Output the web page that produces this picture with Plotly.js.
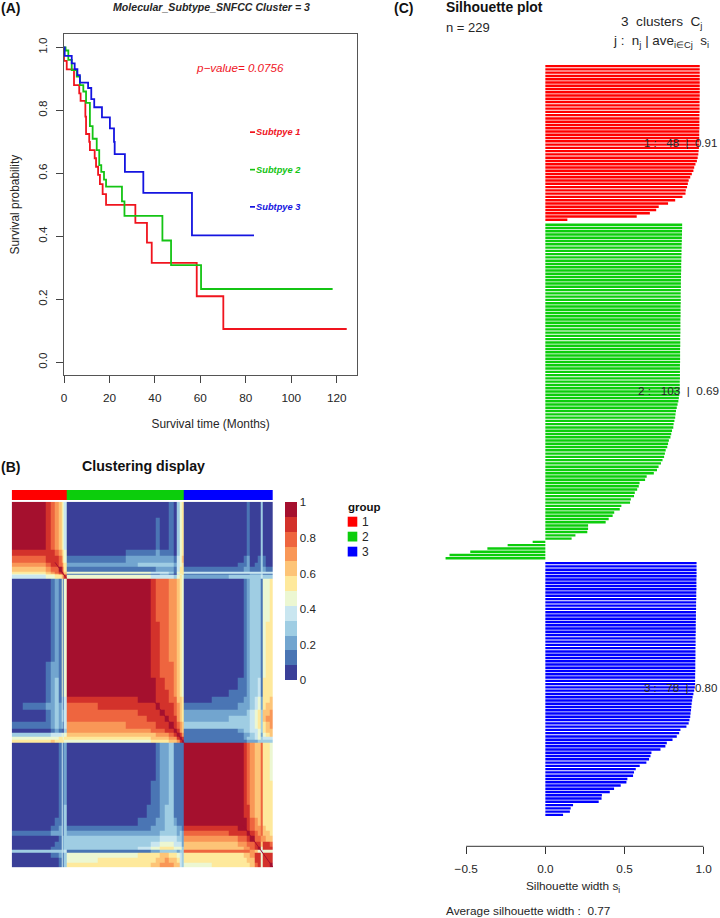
<!DOCTYPE html>
<html>
<head>
<meta charset="utf-8">
<script src="https://cdn.plot.ly/plotly-3.0.1.min.js"></script>
<style>html,body{margin:0;padding:0;background:#fff}#c{width:720px;height:918px}</style>
</head>
<body>
<div id="c"></div>
<script>
// ---------- Panel A: survival curves (step points) ----------
const kmRedT   = [0,0,1.2,4.4,6.7,7.3,9.4,9.7,11.1,11.4,13.5,14.1,15,15.8,17,18.5,31.4,36.5,38.6,58.4,70.1,124.4];
const kmRedS   = [1,.957,.93,.88,.854,.83,.78,.725,.70,.674,.648,.621,.595,.566,.534,.5,.443,.38,.316,.21,.106,.106];
const kmGreenT = [0,.7,1.9,3.4,5.6,7,8.5,9.7,11.4,12.6,14.4,15.5,16.4,17.6,18.5,25.5,26.6,43.3,47.1,60.3,118.2];
const kmGreenS = [1,.99,.96,.928,.907,.88,.86,.824,.75,.71,.674,.626,.605,.58,.558,.511,.465,.387,.309,.233,.233];
const kmBlueT  = [0,.3,3.4,4.7,5.9,7,10.6,12,13.3,16.7,20.2,22,22.3,26.8,34.9,56.3,83.6];
const kmBlueS  = [1,.973,.949,.931,.912,.888,.871,.836,.81,.778,.743,.70,.661,.605,.538,.403,.403];
const kmColors = ['#f0141e','#14c414','#1414e0'];
const kmNames  = ['Subtpye 1','Subtpye 2','Subtpye 3'];

// ---------- Panel B: consensus matrix, blocks between sample breakpoints ----------
const sampleEdges = [0,10,20,30,34,38,41,44,45,46,48,
  75,100,110,118,122,126,130,134,138,142,145,147,149,151,
  175,190,198,203,206,209,213,216,218,220,223,226,229];
// lower triangle of the symmetric matrix; one base-12 level per block
const consensusRows = [
 'b','bb','bbb','aaaa','999aa','8889aa','777899b','666789ab','55566789a','4445566 78a',
 '0000121515'+'b',
 '0000121515'+'bb',
 '0001221515'+'bbb',
 '0001231515'+'bbbb',
 '0001231515'+'bbbbb',
 '0001231414'+'aaabbb',
 '0112232414'+'9aaaaab',
 '0001232424'+'999aaaab',
 '0001232424'+'9999aaaab',
 '1111232314'+'889999aaab',
 '0000121103'+'88888999aab',
 '3333444545'+'7777778889ab',
 '5555556656'+'66666777788ab',
 '6666766665'+'555556666778ab',
 '0000001412'+'00000012231111'+'b',
 '0000001412'+'00000112231111'+'bb',
 '0000001413'+'00001112331111'+'bbb',
 '0000011413'+'00011122332111'+'bbbb',
 '0000112413'+'11111222333221'+'aaabb',
 '1111222413'+'22222223333232'+'99aaab',
 '0000001423'+'33333334444332'+'88899ab',
 '0000011423'+'33333445554442'+'7778899a',
 '0000111423'+'33344556665553'+'777788 9ab',
 '3333333434'+'11111223333233'+'9999998754',
 '0000112413'+'55566667766543'+'66667 78aa5a',
 '0000001413'+'56666677877643'+'66666 77aa5aa',
 '0000001413'+'66666778887743'+'56666 679a5aab'
].map(s => s.replace(/ /g,''));
const diagX = [38,48,null,122,151,null,203,229];
const levelColors = ['#3a3f98','#4a75b4','#72a5cf','#9fcde3','#c9e6f0','#ecf7d2',
                     '#fee99c','#fdc477','#f99757','#ee653f','#d3322b','#a5102e'];
const legendTicks = [0,0.2,0.4,0.6,0.8,1];
const groupSizes = [48,103,78];
const groupColors = ['#ff0000','#0ccd0c','#0000ff'];
const groupLabels = ['1','2','3'];

// ---------- Panel C: silhouette widths, read bar by bar ----------
const silRed = [.975,.975,.975,.975,.975,.975,.975,.975,.975,.975,.974,.974,.974,.974,.974,.973,.973,.973,.973,.973,.972,.972,.972,.972,.971,.970,.968,.966,.962,.957,.948,.940,.935,.925,.915,.905,.900,.895,.887,.885,.866,.820,.775,.716,.700,.660,.577,.139];
const silGreen = [.864,.864,.863,.863,.862,.862,.861,.861,.860,.860,.859,.859,.858,.858,.858,.857,.857,.856,.856,.856,.855,.855,.855,.855,.855,.854,.854,.854,.854,.853,.853,.853,.853,.853,.852,.852,.852,.852,.851,.851,.851,.851,.851,.850,.850,.850,.850,.850,.849,.849,.849,.848,.846,.843,.840,.835,.830,.825,.822,.820,.815,.810,.808,.800,.795,.790,.780,.775,.770,.760,.755,.750,.740,.730,.715,.705,.685,.640,.630,.595,.590,.580,.565,.560,.540,.535,.480,.470,.435,.425,.400,.381,.270,.270,.265,.190,.166,-.080,-.238,-.366,-.474,-.605,-.630];
const silBlue = [.955,.955,.955,.955,.955,.954,.954,.954,.954,.953,.953,.953,.952,.952,.952,.951,.951,.951,.950,.950,.950,.950,.949,.949,.949,.949,.948,.948,.948,.948,.947,.947,.947,.947,.946,.946,.946,.946,.944,.940,.935,.930,.927,.924,.922,.920,.917,.915,.910,.905,.891,.853,.845,.830,.803,.767,.758,.727,.670,.664,.655,.638,.596,.571,.560,.554,.518,.512,.476,.434,.407,.357,.355,.337,.175,.160,.155,.112];
const silTicks = [-0.5,0,0.5,1];

// ---------- helpers ----------
const W = 720, H = 918;
const fx = p => p / W, fy = p => 1 - p / H;
const FONT = 'Liberation Sans, Arial, sans-serif';
const INK = '#262626';

// matrix build: mirror the lower triangle, then map level -> colour-band centre
const nB = sampleEdges.length - 1;
const levelOf = c => parseInt(c, 12);
const z = Array.from({length:nB}, () => new Array(nB).fill(0));
consensusRows.forEach((row, i) => { for (let j = 0; j <= i; j++) {
  const ch = row[Math.min(j, row.length-1)];
  const v = (levelOf(ch) + 0.5) / 12; z[i][j] = v; z[j][i] = v;
}});
const cs = [];
levelColors.forEach((c, i) => { cs.push([i/12, c]); cs.push([(i+1)/12, c]); });

// silhouette positions: half-bar extra space between clusters
const silY = [], silX = [], silC = [];
let k = 0;
[silRed, silGreen, silBlue].forEach((arr, g) => { arr.forEach(v => {
  silY.push(k + g*0.5); silX.push(v); silC.push(groupColors[g]); k++;
});});

// group bar
const groupEdges = [0];
groupSizes.forEach(n => groupEdges.push(groupEdges[groupEdges.length-1] + n));
const groupCs = [];
groupColors.forEach((c,i) => { groupCs.push([i/3,c]); groupCs.push([(i+1)/3,c]); });

const km = (t,s,i) => ({type:'scatter',mode:'lines',x:t,y:s,name:kmNames[i],xaxis:'x',yaxis:'y',
  line:{shape:'hv',color:kmColors[i],width:1.8},hoverinfo:'skip'});

const traces = [
  km(kmRedT,kmRedS,0), km(kmGreenT,kmGreenS,1), km(kmBlueT,kmBlueS,2),
  {type:'heatmap',x:sampleEdges,y:sampleEdges,z:z,zmin:0,zmax:1,colorscale:cs,xaxis:'x2',yaxis:'y2',hoverinfo:'skip',
   colorbar:{x:fx(285),xanchor:'left',xpad:0,y:fy(502.3),yanchor:'top',ypad:0,thicknessmode:'pixels',thickness:11.7,
     lenmode:'pixels',len:178.4,outlinewidth:0,ticks:'',tickvals:legendTicks,ticktext:legendTicks.map(String),
     tickfont:{family:FONT,size:11.5,color:INK},ticklabelposition:'outside'}},
  {type:'scatter',mode:'lines',x:diagX,y:diagX,xaxis:'x2',yaxis:'y2',line:{color:'#a5102e',width:1},hoverinfo:'skip',connectgaps:false},
  {type:'heatmap',x:groupEdges,y:[0,1],z:[[0.5/3,1.5/3,2.5/3]],zmin:0,zmax:1,colorscale:groupCs,showscale:false,xaxis:'x3',yaxis:'y3',hoverinfo:'skip'},
  {type:'bar',orientation:'h',x:silX,y:silY,width:0.74,marker:{color:silC,line:{width:0}},xaxis:'x4',yaxis:'y4',cliponaxis:false,hoverinfo:'skip'}
];

const txt = (text,px,py,size,opt={}) => Object.assign({text,x:fx(px),y:fy(py),xref:'paper',yref:'paper',showarrow:false,
  xanchor:'left',yanchor:'middle',font:{family:FONT,size,color:INK},borderpad:0},opt);
const NB = '\u00A0';
const boldFont = s => ({font:{family:FONT,size:s,color:'#111'}});
const annotations = [
  txt('<b>(A)</b>',0,8,14,boldFont(14)),
  txt('<b>(B)</b>',0,467,14,boldFont(14)),
  txt('<b>(C)</b>',393,8,14,boldFont(14)),
  txt('<b><i>Molecular_Subtype_SNFCC Cluster = 3</i></b>',211,6.5,10.6,{xanchor:'center'}),
  txt('<i>p\u2212value= 0.0756</i>',240,67,11.6,{xanchor:'center',font:{family:FONT,size:11.6,color:kmColors[0]}}),
  txt('<b><i>'+kmNames[0]+'</i></b>',254.5,132,9.3,{font:{family:FONT,size:9.3,color:kmColors[0]}}),
  txt('<b><i>'+kmNames[1]+'</i></b>',254.5,169.5,9.3,{font:{family:FONT,size:9.3,color:kmColors[1]}}),
  txt('<b><i>'+kmNames[2]+'</i></b>',254.5,207,9.3,{font:{family:FONT,size:9.3,color:kmColors[2]}}),
  txt('<b>Clustering display</b>',80.5,465.5,14.2,boldFont(14.2)),
  txt('<b>group</b>',346.8,507,11.5,boldFont(11.5)),
  txt(groupLabels[0],360.5,521.7,12),
  txt(groupLabels[1],360.5,536.5,12),
  txt(groupLabels[2],360.5,551.5,12),
  txt('<b>Silhouette plot</b>',444.8,7,13.9,boldFont(13.9)),
  txt('n = 229',444.8,27,13),
  txt('3'+NB+NB+'clusters'+NB+NB+'C<sub>j</sub>',661,23,13.6,{xanchor:'center'}),
  txt('j :'+NB+NB+'n<sub>j</sub> | ave<sub>i\u2208Cj</sub>'+NB+NB+'s<sub>i</sub>',661,42,13.4,{xanchor:'center'}),
  txt('1 :'+NB+NB+NB+'48'+NB+' | '+NB+'0.91',643,142.7,11.5),
  txt('2 :'+NB+NB+NB+'103'+NB+' | '+NB+'0.69',636.8,390.7,11.7),
  txt('3 :'+NB+NB+NB+'78'+NB+' | '+NB+'0.80',643,688,11.5),
  txt('Average silhouette width :'+NB+NB+'0.77',444.8,910.7,11.8)
];
const keyShape = (x0,x1,y0,y1,c) => ({type:'rect',xref:'paper',yref:'paper',x0:fx(x0),x1:fx(x1),y0:fy(y1),y1:fy(y0),fillcolor:c,line:{width:0}});
const shapes = [
  keyShape(250,255,131.3,133,kmColors[0]),
  keyShape(250,255,168.8,170.5,kmColors[1]),
  keyShape(250,255,206,207.7,kmColors[2]),
  keyShape(347.7,357.3,516.7,526.7,groupColors[0]),
  keyShape(347.7,357.3,531.7,541.5,groupColors[1]),
  keyShape(347.7,357.3,546.7,556.5,groupColors[2]),
  {type:'line',xref:'x4',yref:'paper',x0:silTicks[0],x1:silTicks[silTicks.length-1],y0:fy(846.3),y1:fy(846.3),line:{color:'#333',width:1}}
];

const layout = {
  width:W,height:H,margin:{l:0,r:0,t:0,b:0},paper_bgcolor:'#fff',plot_bgcolor:'#fff',showlegend:false,
  font:{family:FONT,color:INK},annotations,shapes,
  xaxis:{domain:[fx(64),fx(357.3)],anchor:'y',range:[0,129.05],tickmode:'array',tickvals:[0,20,40,60,80,100,120],
    ticks:'outside',ticklen:7,tickcolor:'#444',showline:true,mirror:true,linecolor:'#555',linewidth:1,showgrid:false,zeroline:false,ticklabelstandoff:5,
    tickfont:{family:FONT,size:11.8,color:INK},title:{text:'Survival time (Months)',font:{family:FONT,size:11.9,color:INK},standoff:15}},
  yaxis:{domain:[fy(375),fy(34.3)],anchor:'x',range:[-0.04,1.0415],tickmode:'array',tickvals:[0,.2,.4,.6,.8,1],ticktext:['0.0','0.2','0.4','0.6','0.8','1.0'],tickangle:-90,
    ticks:'outside',ticklen:7,tickcolor:'#444',showline:true,mirror:true,linecolor:'#555',linewidth:1,showgrid:false,zeroline:false,ticklabelstandoff:4,
    tickfont:{family:FONT,size:11.8,color:INK},title:{text:'Survival probability',font:{family:FONT,size:11.9,color:INK},standoff:14}},
  xaxis2:{domain:[fx(11.7),fx(273)],anchor:'y2',range:[0,229],visible:false},
  yaxis2:{domain:[fy(867.3),fy(501.7)],anchor:'x2',range:[229,0],visible:false},
  xaxis3:{domain:[fx(11.7),fx(273)],anchor:'y3',range:[0,229],visible:false},
  yaxis3:{domain:[fy(500),fy(490)],anchor:'x3',range:[0,1],visible:false},
  xaxis4:{domain:[fx(442.4),fx(703.7)],anchor:'y4',range:[-0.65,1],tickmode:'array',tickvals:silTicks,ticktext:['\u22120.5','0.0','0.5','1.0'],
    ticks:'outside',ticklen:7,tickcolor:'#333',showline:false,showgrid:false,zeroline:false,ticklabelstandoff:5,
    tickfont:{family:FONT,size:11.8,color:INK},title:{text:'Silhouette width s<sub>i</sub>',font:{family:FONT,size:11.8,color:INK},standoff:6}},
  yaxis4:{domain:[fy(846.3),fy(60)],anchor:'x4',range:[238.6,-1.87],visible:false}
};
Plotly.newPlot('c',traces,layout,{displayModeBar:false,responsive:false});
</script>
</body>
</html>
